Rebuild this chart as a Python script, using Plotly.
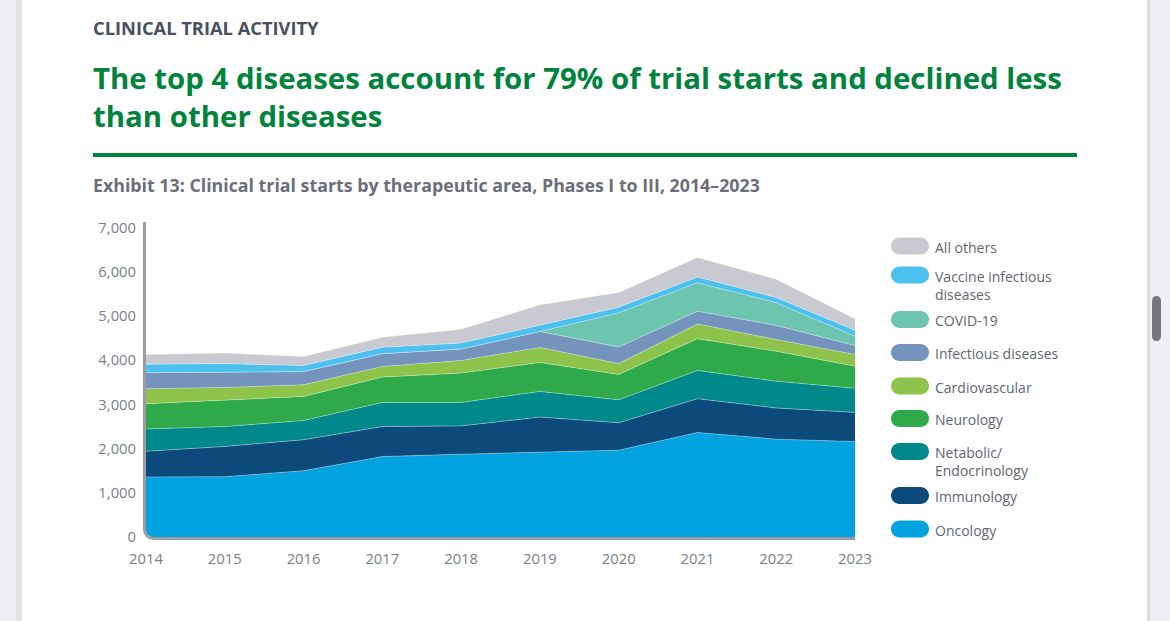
import plotly.graph_objects as go

# ---------------- data ----------------
years = [2014, 2015, 2016, 2017, 2018, 2019, 2020, 2021, 2022, 2023]

oncology = [1360, 1365, 1500, 1820, 1875, 1920, 1965, 2365, 2215, 2160]
immunology = [580, 685, 700, 680, 640, 795, 620, 765, 705, 660]
metabolic = [505, 450, 435, 545, 530, 580, 520, 640, 605, 545]
neurology = [570, 590, 545, 575, 665, 655, 575, 720, 680, 500]
cardiovascular = [340, 295, 265, 240, 285, 340, 245, 330, 265, 265]
infectious = [365, 350, 300, 290, 260, 360, 375, 290, 320, 205]
covid19 = [0, 0, 0, 0, 0, 0, 775, 645, 515, 210]
vaccine = [190, 190, 135, 145, 135, 150, 125, 130, 115, 135]
all_others = [220, 240, 205, 225, 315, 455, 335, 440, 415, 260]

series_names = ["Oncology", "Immunology", "Netabolic/Endocrinology", "Neurology",
                "Cardiovascular", "Infectious diseases", "COVID-19",
                "Vaccine infectious diseases", "All others"]
series_values = [oncology, immunology, metabolic, neurology, cardiovascular,
                 infectious, covid19, vaccine, all_others]
series_colors = ["#00A3E0", "#0C4A7C", "#00888A", "#2FAA4B", "#8DC24B",
                 "#7594BD", "#6DC4AF", "#4CC0EE", "#C9C9D1"]
legend_labels = ["Oncology", "Immunology", "Netabolic/<br>Endocrinology",
                 "Neurology", "Cardiovascular", "Infectious diseases",
                 "COVID-19", "Vaccine infectious<br>diseases", "All others"]

y_ticks = [0, 1000, 2000, 3000, 4000, 5000, 6000, 7000]

# ---------------- layout geometry (pixels) ----------------
W, H = 1170, 621
L, R, T, B = 146, 855, 222, 537


def px(x):
    return (x - L) / (R - L)


def py(y):
    return (B - y) / (B - T)


def _path(pts, close=True):
    s = ""
    for cmd, ps in pts:
        s += cmd + " " + " ".join(f"{px(a):.5f},{py(b):.5f}" for a, b in ps) + " "
    return s + ("Z" if close else "")


def pill_h(x0, x1, cy, h):
    r = h / 2.0
    k = 0.5523 * r
    return _path([
        ("M", [(x0 + r, cy - r)]),
        ("L", [(x1 - r, cy - r)]),
        ("C", [(x1 - r + k, cy - r), (x1, cy - k), (x1, cy)]),
        ("C", [(x1, cy + k), (x1 - r + k, cy + r), (x1 - r, cy + r)]),
        ("L", [(x0 + r, cy + r)]),
        ("C", [(x0 + r - k, cy + r), (x0, cy + k), (x0, cy)]),
        ("C", [(x0, cy - k), (x0 + r - k, cy - r), (x0 + r, cy - r)]),
    ])


def pill_v(cx, y0, y1, w):
    r = w / 2.0
    k = 0.5523 * r
    return _path([
        ("M", [(cx - r, y0 + r)]),
        ("C", [(cx - r, y0 + r - k), (cx - k, y0), (cx, y0)]),
        ("C", [(cx + k, y0), (cx + r, y0 + r - k), (cx + r, y0 + r)]),
        ("L", [(cx + r, y1 - r)]),
        ("C", [(cx + r, y1 - r + k), (cx + k, y1), (cx, y1)]),
        ("C", [(cx - k, y1), (cx - r, y1 - r + k), (cx - r, y1 - r)]),
    ])


fig = go.Figure()

for name, vals, col in zip(series_names, series_values, series_colors):
    fig.add_trace(go.Scatter(
        x=years, y=vals, name=name, mode="lines", stackgroup="one",
        line=dict(width=0.6, color="rgba(255,255,255,0.55)"),
        fillcolor=col, showlegend=False, hoverinfo="x+y+name",
    ))

FONT = "Open Sans"
AXIS_GRAY = "#9C9CA4"
shapes = []
annotations = []

# page background card
shapes.append(dict(type="rect", xref="paper", yref="paper", layer="below",
                   x0=px(16), x1=px(22), y0=py(640), y1=py(-20),
                   fillcolor="#E0E0E6", line=dict(width=0)))
shapes.append(dict(type="rect", xref="paper", yref="paper", layer="below",
                   x0=px(22), x1=px(1147), y0=py(640), y1=py(-20),
                   fillcolor="#FFFFFF", line=dict(width=0)))
shapes.append(dict(type="rect", xref="paper", yref="paper", layer="below",
                   x0=px(1147), x1=px(1150), y0=py(640), y1=py(-20),
                   fillcolor="#DCDCE2", line=dict(width=0)))
shapes.append(dict(type="path", xref="paper", yref="paper", layer="above",
                   path=pill_v(1156.5, 296, 341, 9),
                   fillcolor="#77767D", line=dict(width=0)))

# rounded axis corner
cx, cy, rr = 144.5, 538.5, 9.0
kk = 0.5523 * rr
shapes.append(dict(type="path", xref="paper", yref="paper", layer="above",
                   path=_path([("M", [(141, cy - rr)]), ("L", [(141, 542)]),
                               ("L", [(cx + rr, 542)]), ("L", [(cx + rr, cy)]),
                               ("C", [(cx + rr - kk, cy), (cx, cy - rr + kk), (cx, cy - rr)])]),
                   fillcolor="#FFFFFF", line=dict(width=0)))
shapes.append(dict(type="path", xref="paper", yref="paper", layer="above",
                   path=_path([("M", [(cx, cy - rr - 2)]), ("L", [(cx, cy - rr)]),
                               ("C", [(cx, cy - rr + kk), (cx + rr - kk, cy), (cx + rr, cy)]),
                               ("L", [(cx + rr + 2, cy)])], close=False),
                   line=dict(color=AXIS_GRAY, width=3)))

# green rule
shapes.append(dict(type="line", xref="paper", yref="paper",
                   x0=px(93), x1=px(1077), y0=py(155), y1=py(155),
                   line=dict(color="#00833D", width=4)))

# headings
annotations.append(dict(text="<b>CLINICAL TRIAL ACTIVITY</b>", xref="paper", yref="paper",
                        x=px(91), y=py(27), xanchor="left", yanchor="middle", showarrow=False,
                        font=dict(family=FONT, size=18.3, color="#4A4F5E")))
annotations.append(dict(text="<b>The top 4 diseases account for 79% of trial starts and declined less</b>",
                        xref="paper", yref="paper", x=px(91), y=py(78), xanchor="left",
                        yanchor="middle", showarrow=False,
                        font=dict(family=FONT, size=29.4, color="#00833D")))
annotations.append(dict(text="<b>than other diseases</b>",
                        xref="paper", yref="paper", x=px(91), y=py(116), xanchor="left",
                        yanchor="middle", showarrow=False,
                        font=dict(family=FONT, size=29.4, color="#00833D")))
annotations.append(dict(text="<b>Exhibit 13: Clinical trial starts by therapeutic area, Phases I to III, 2014–2023</b>",
                        xref="paper", yref="paper", x=px(91), y=py(185), xanchor="left",
                        yanchor="middle", showarrow=False,
                        font=dict(family=FONT, size=17.8, color="#6B6E7A")))

# custom legend (pills + labels)
swatch_y = [529, 495.5, 451.5, 418.5, 386, 352.5, 319.5, 275, 246]
for label, col, cy_ in zip(legend_labels, series_colors, swatch_y):
    shapes.append(dict(type="path", xref="paper", yref="paper",
                       path=pill_h(891, 929, cy_, 17), fillcolor=col, line=dict(width=0)))
    annotations.append(dict(text=label, xref="paper", yref="paper", x=px(933),
                            y=py(cy_ - 10.5), xanchor="left", yanchor="top",
                            align="left", showarrow=False,
                            font=dict(family=FONT, size=14, color="#62656F")))

fig.update_layout(
    width=W, height=H,
    margin=dict(l=L, r=W - R, t=T, b=H - B, pad=0),
    paper_bgcolor="#EEEEF4",
    plot_bgcolor="rgba(0,0,0,0)",
    showlegend=False,
    shapes=shapes,
    annotations=annotations,
    xaxis=dict(range=[years[0], years[-1]], tickvals=years, ticktext=[str(y) for y in years],
               showgrid=False, zeroline=False, showline=True, linecolor=AXIS_GRAY,
               linewidth=3, ticks="", ticklabelstandoff=6,
               tickfont=dict(family=FONT, size=14.8, color="#7B7E8A")),
    yaxis=dict(range=[0, 7130], tickvals=y_ticks, tickformat=",",
               showgrid=False, zeroline=False, showline=True, linecolor=AXIS_GRAY,
               linewidth=3, ticks="", ticklabelstandoff=4,
               tickfont=dict(family=FONT, size=14.8, color="#7B7E8A")),
)

fig.write_html(
    "out.html",
    config={"displayModeBar": False},
    post_script="document.body.style.margin='0';document.body.style.padding='0';"
                "document.body.style.overflow='hidden';",
)
